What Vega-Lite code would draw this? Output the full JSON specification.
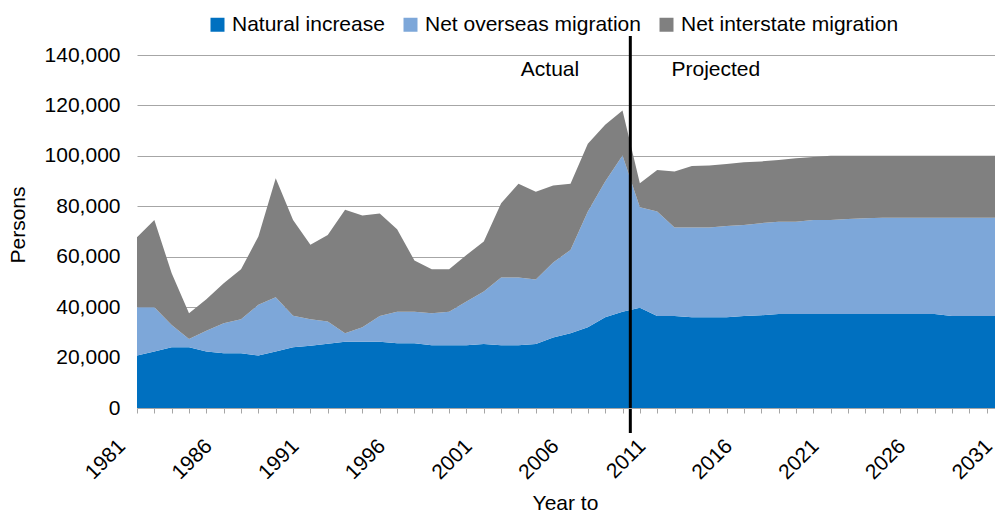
{
  "$schema": "https://vega.github.io/schema/vega-lite/v6.json",
  "width": 867,
  "height": 353,
  "autosize": {"type": "none"},
  "padding": {"left": 137, "top": 55, "right": -9, "bottom": 108},
  "background": "white",
  "config": {
    "font": "Liberation Sans",
    "view": {"stroke": null},
    "text": {"font": "Liberation Sans"}
  },
  "datasets": {
    "components": [
      {"year": 1981, "Natural increase": 20800, "Net overseas migration": 19200, "Net interstate migration": 27700},
      {"year": 1982, "Natural increase": 22400, "Net overseas migration": 17600, "Net interstate migration": 34600},
      {"year": 1983, "Natural increase": 24100, "Net overseas migration": 8800, "Net interstate migration": 20500},
      {"year": 1984, "Natural increase": 24100, "Net overseas migration": 3300, "Net interstate migration": 10200},
      {"year": 1985, "Natural increase": 22400, "Net overseas migration": 8200, "Net interstate migration": 12500},
      {"year": 1986, "Natural increase": 21700, "Net overseas migration": 11900, "Net interstate migration": 15900},
      {"year": 1987, "Natural increase": 21700, "Net overseas migration": 13500, "Net interstate migration": 19800},
      {"year": 1988, "Natural increase": 20800, "Net overseas migration": 20100, "Net interstate migration": 27100},
      {"year": 1989, "Natural increase": 22400, "Net overseas migration": 21500, "Net interstate migration": 47200},
      {"year": 1990, "Natural increase": 24100, "Net overseas migration": 12500, "Net interstate migration": 38000},
      {"year": 1991, "Natural increase": 24700, "Net overseas migration": 10500, "Net interstate migration": 29500},
      {"year": 1992, "Natural increase": 25500, "Net overseas migration": 8800, "Net interstate migration": 34300},
      {"year": 1993, "Natural increase": 26300, "Net overseas migration": 3300, "Net interstate migration": 49000},
      {"year": 1994, "Natural increase": 26300, "Net overseas migration": 5700, "Net interstate migration": 44300},
      {"year": 1995, "Natural increase": 26300, "Net overseas migration": 10200, "Net interstate migration": 40600},
      {"year": 1996, "Natural increase": 25700, "Net overseas migration": 12500, "Net interstate migration": 32700},
      {"year": 1997, "Natural increase": 25700, "Net overseas migration": 12500, "Net interstate migration": 20300},
      {"year": 1998, "Natural increase": 24900, "Net overseas migration": 12700, "Net interstate migration": 17400},
      {"year": 1999, "Natural increase": 24900, "Net overseas migration": 13300, "Net interstate migration": 16800},
      {"year": 2000, "Natural increase": 24900, "Net overseas migration": 17300, "Net interstate migration": 18500},
      {"year": 2001, "Natural increase": 25400, "Net overseas migration": 20800, "Net interstate migration": 19800},
      {"year": 2002, "Natural increase": 24900, "Net overseas migration": 26900, "Net interstate migration": 29400},
      {"year": 2003, "Natural increase": 24900, "Net overseas migration": 26900, "Net interstate migration": 37100},
      {"year": 2004, "Natural increase": 25400, "Net overseas migration": 25600, "Net interstate migration": 34800},
      {"year": 2005, "Natural increase": 28000, "Net overseas migration": 29700, "Net interstate migration": 30500},
      {"year": 2006, "Natural increase": 29600, "Net overseas migration": 33100, "Net interstate migration": 26200},
      {"year": 2007, "Natural increase": 32000, "Net overseas migration": 45900, "Net interstate migration": 26900},
      {"year": 2008, "Natural increase": 36000, "Net overseas migration": 53800, "Net interstate migration": 22500},
      {"year": 2009, "Natural increase": 38200, "Net overseas migration": 61900, "Net interstate migration": 17900},
      {"year": 2010, "Natural increase": 39800, "Net overseas migration": 39800, "Net interstate migration": 9500},
      {"year": 2011, "Natural increase": 36500, "Net overseas migration": 41400, "Net interstate migration": 16500},
      {"year": 2012, "Natural increase": 36500, "Net overseas migration": 35100, "Net interstate migration": 22200},
      {"year": 2013, "Natural increase": 36000, "Net overseas migration": 35600, "Net interstate migration": 24400},
      {"year": 2014, "Natural increase": 36000, "Net overseas migration": 35600, "Net interstate migration": 24600},
      {"year": 2015, "Natural increase": 36000, "Net overseas migration": 36200, "Net interstate migration": 24600},
      {"year": 2016, "Natural increase": 36500, "Net overseas migration": 36100, "Net interstate migration": 24900},
      {"year": 2017, "Natural increase": 36800, "Net overseas migration": 36500, "Net interstate migration": 24500},
      {"year": 2018, "Natural increase": 37300, "Net overseas migration": 36600, "Net interstate migration": 24500},
      {"year": 2019, "Natural increase": 37300, "Net overseas migration": 36600, "Net interstate migration": 25200},
      {"year": 2020, "Natural increase": 37300, "Net overseas migration": 37300, "Net interstate migration": 24900},
      {"year": 2021, "Natural increase": 37300, "Net overseas migration": 37300, "Net interstate migration": 25400},
      {"year": 2022, "Natural increase": 37300, "Net overseas migration": 37700, "Net interstate migration": 25000},
      {"year": 2023, "Natural increase": 37300, "Net overseas migration": 38000, "Net interstate migration": 24700},
      {"year": 2024, "Natural increase": 37300, "Net overseas migration": 38200, "Net interstate migration": 24500},
      {"year": 2025, "Natural increase": 37300, "Net overseas migration": 38200, "Net interstate migration": 24500},
      {"year": 2026, "Natural increase": 37300, "Net overseas migration": 38200, "Net interstate migration": 24500},
      {"year": 2027, "Natural increase": 37300, "Net overseas migration": 38200, "Net interstate migration": 24500},
      {"year": 2028, "Natural increase": 36500, "Net overseas migration": 39000, "Net interstate migration": 24500},
      {"year": 2029, "Natural increase": 36500, "Net overseas migration": 39000, "Net interstate migration": 24500},
      {"year": 2030, "Natural increase": 36500, "Net overseas migration": 39000, "Net interstate migration": 24500},
      {"year": 2031, "Natural increase": 36500, "Net overseas migration": 39000, "Net interstate migration": 24500}
    ],
    "seriesInfo": [
      {"series": "Natural increase", "stackOrder": 1},
      {"series": "Net overseas migration", "stackOrder": 2},
      {"series": "Net interstate migration", "stackOrder": 3}
    ],
    "annotations": [
      {"label": "Actual", "year": 2004.82, "persons": 131800},
      {"label": "Projected", "year": 2014.38, "persons": 131800}
    ]
  },
  "layer": [
    {
      "data": {"name": "components"},
      "transform": [
        {"fold": ["Natural increase", "Net overseas migration", "Net interstate migration"], "as": ["series", "persons"]},
        {"lookup": "series", "from": {"data": {"name": "seriesInfo"}, "key": "series", "fields": ["stackOrder"]}}
      ],
      "mark": {"type": "area", "clip": true, "opacity": 1},
      "encoding": {
        "x": {
          "field": "year",
          "type": "quantitative",
          "scale": {"domain": [1981, 2031], "nice": false, "zero": false},
          "axis": {
            "values": [1981,1982,1983,1984,1985,1986,1987,1988,1989,1990,1991,1992,1993,1994,1995,1996,1997,1998,1999,2000,2001,2002,2003,2004,2005,2006,2007,2008,2009,2010,2011,2012,2013,2014,2015,2016,2017,2018,2019,2020,2021,2022,2023,2024,2025,2026,2027,2028,2029,2030,2031],
            "tickCount": 200,
            "format": "d",
            "labelExpr": "(datum.value - 1981) % 5 === 0 ? datum.label : ''",
            "labelAngle": -45,
            "labelAlign": "right",
            "labelBaseline": "alphabetic",
            "labelOffset": -11,
            "labelPadding": 34,
            "labelFontSize": 21,
            "labelColor": "#000000",
            "labelOverlap": false,
            "labelFlush": false,
            "labelBound": false,
            "tickSize": 5,
            "tickColor": "#A6A6A6",
            "domainColor": "#A6A6A6",
            "grid": false,
            "title": "Year to",
            "titleFontSize": 21,
            "titleFontWeight": "normal",
            "titleColor": "#000000",
            "titleX": 428,
            "titleY": 101,
            "titleAlign": "center",
            "titleBaseline": "alphabetic",
            "zindex": 1
          }
        },
        "y": {
          "field": "persons",
          "type": "quantitative",
          "stack": "zero",
          "scale": {"domain": [0, 140000], "nice": false},
          "axis": {
            "values": [0, 20000, 40000, 60000, 80000, 100000, 120000, 140000],
            "format": ",d",
            "domain": false,
            "ticks": false,
            "grid": true,
            "gridColor": "#A6A6A6",
            "gridWidth": 1,
            "labelFontSize": 21,
            "labelPadding": 17,
            "labelColor": "#000000",
            "title": "Persons",
            "titleFontSize": 21,
            "titleFontWeight": "normal",
            "titleColor": "#000000",
            "titleX": -118.5,
            "titleY": 169.5,
            "titleAlign": "center",
            "titleBaseline": "middle"
          }
        },
        "color": {
          "field": "series",
          "type": "nominal",
          "scale": {
            "domain": ["Natural increase", "Net overseas migration", "Net interstate migration"],
            "range": ["#0070C0", "#7DA7D9", "#808080"]
          },
          "legend": {
            "title": null,
            "orient": "none",
            "legendX": 70,
            "legendY": -41,
            "direction": "horizontal",
            "symbolType": "square",
            "symbolSize": 196,
            "symbolStrokeWidth": 0,
            "symbolOpacity": 1,
            "labelFontSize": 21,
            "labelColor": "#000000",
            "labelOffset": 4,
            "labelLimit": 400,
            "columnPadding": 15,
            "padding": 0
          }
        },
        "order": {"field": "stackOrder", "type": "quantitative", "sort": "ascending"}
      }
    },
    {
      "data": {"name": "annotations"},
      "mark": {"type": "text", "fontSize": 21, "align": "center", "baseline": "alphabetic", "color": "#000000"},
      "encoding": {
        "x": {"field": "year", "type": "quantitative"},
        "y": {"field": "persons", "type": "quantitative"},
        "text": {"field": "label", "type": "nominal"}
      }
    },
    {
      "data": {"values": [{}]},
      "mark": {"type": "rule", "color": "#000000", "strokeWidth": 3, "clip": false},
      "encoding": {
        "x": {"datum": 2009.45},
        "y": {"datum": 147500},
        "y2": {"datum": -9900}
      }
    }
  ]
}
